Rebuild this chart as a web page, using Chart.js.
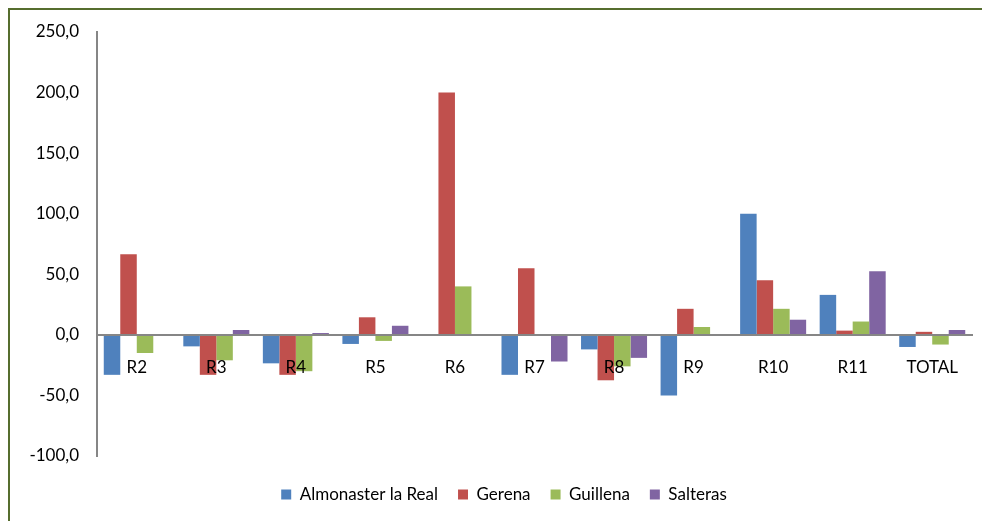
<!DOCTYPE html>
<html>
<head>
<meta charset="utf-8">
<script src="https://cdn.jsdelivr.net/npm/chart.js@4"></script>
<style>
    html, body { margin: 0; padding: 0; background: #fff; overflow: hidden; }
    #frame {
        position: absolute; left: 8px; top: 8px; width: 1200px; height: 800px;
        border-top: 2px solid #566d2e; border-left: 2px solid #566d2e;
    }
    #wrap { position: absolute; left: 0; top: 0; width: 982px; height: 521px; }
</style>
</head>
<body>
<div id="frame"></div>
<div id="wrap"><canvas id="chart"></canvas></div>
<script>
// categorías y valores (%)
const categories = ['R2', 'R3', 'R4', 'R5', 'R6', 'R7', 'R8', 'R9', 'R10', 'R11', 'TOTAL'];
const almonaster = [-33, -9.5, -23.5, -7.5, 0, -33, -12, -50, 100, 33, -10];
const gerena = [66.5, -33, -33, 14.5, 200, 55, -37.5, 21.5, 45, 3.5, 2.5];
const guillena = [-15, -21, -30, -5, 40, 0, -26, 6.5, 21.5, 11, -8];
const salteras = [0, 4, 1.5, 7.5, 0, -22, -19, 0, 12.5, 52.5, 4];
const yTicks = { min: -100, max: 250, step: 50 };

// baja y desplaza un poco la leyenda (en Excel queda centrada respecto al área)
const legendShift = {
    id: 'legendShift',
    afterLayout(chart) {
        const lg = chart.legend;
        if (lg) {
            lg.top += 10;
            lg.bottom += 10;
            lg.left += 18;
            lg.right += 18;
        }
    }
};

document.addEventListener('DOMContentLoaded', function () {
    const font = "Lato, 'Open Sans', sans-serif";
    const ctx = document.getElementById('chart').getContext('2d');

    new Chart(ctx, {
        type: 'bar',
        data: {
            labels: categories,
            datasets: [
                { label: 'Almonaster la Real', data: almonaster, backgroundColor: '#4f81bd' },
                { label: 'Gerena', data: gerena, backgroundColor: '#c0504d' },
                { label: 'Guillena', data: guillena, backgroundColor: '#9bbb59' },
                { label: 'Salteras', data: salteras, backgroundColor: '#8064a2' }
            ]
        },
        options: {
            responsive: true,
            maintainAspectRatio: false,
            animation: false,
            layout: { padding: { left: 0, right: 10, top: 32, bottom: 18 } },
            datasets: {
                bar: { categoryPercentage: 0.83, barPercentage: 1.0 }
            },
            scales: {
                x: {
                    position: { y: 0 },
                    grid: { display: false, drawTicks: false },
                    border: { color: '#868686', width: 2, z: 1 },
                    ticks: { z: 1, color: '#000', padding: 22, font: { size: 17, family: font } }
                },
                y: {
                    min: yTicks.min,
                    max: yTicks.max,
                    grid: { display: false, drawTicks: false },
                    border: { color: '#868686', width: 2 },
                    ticks: {
                        stepSize: yTicks.step,
                        padding: 18,
                        color: '#000',
                        font: { size: 17, family: font },
                        callback: v => v.toFixed(1).replace('.', ',')
                    },
                    afterFit: scale => { scale.width = 97; }
                }
            },
            plugins: {
                legend: {
                    position: 'bottom',
                    labels: {
                        boxWidth: 10,
                        boxHeight: 10,
                        padding: 20,
                        color: '#000',
                        font: { size: 17, family: font }
                    }
                },
                tooltip: { enabled: false }
            }
        },
        plugins: [legendShift]
    });
});
</script>
</body>
</html>
